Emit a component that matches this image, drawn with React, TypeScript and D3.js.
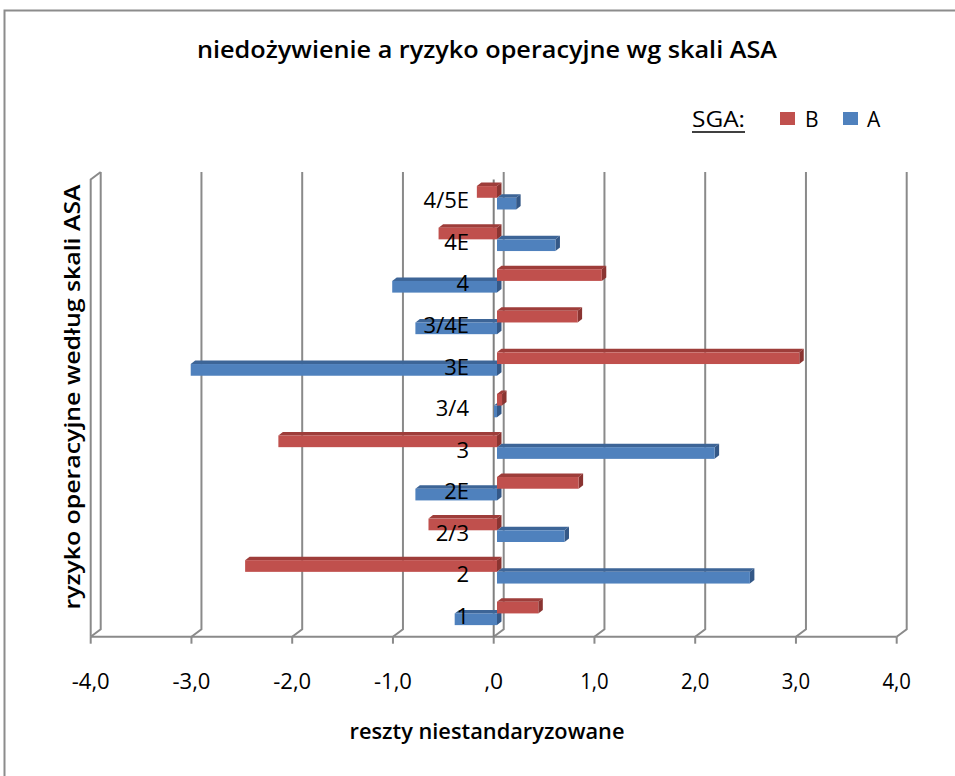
import React from "react";
import * as d3 from "d3";

const categories = ["1", "2", "2/3", "2E", "3", "3/4", "3E", "3/4E", "4", "4E", "4/5E"];
const seriesB = [0.41, -2.5, -0.68, 0.81, -2.17, 0.05, 3.0, 0.8, 1.04, -0.58, -0.2];
const seriesA = [-0.42, 2.51, 0.67, -0.81, 2.16, -0.03, -3.04, -0.81, -1.04, 0.58, 0.19];
const xTicks = [-4, -3, -2, -1, 0, 1, 2, 3, 4];
const xTickLabels = ["-4,0", "-3,0", "-2,0", "-1,0", ",0", "1,0", "2,0", "3,0", "4,0"];
const seriesNames = ["B", "A"];

const W = 955, H = 776;
const FONT = "'Open Sans', 'Noto Sans', sans-serif";
const GRID = "#8a8a8a";

export default function App() {
  const front = { left: 90.7, right: 896.7, top: 179.5, bottom: 636.7 };
  const depth = { dx: 10, dy: -7.5 };
  const x = d3.scaleLinear().domain([-4, 4]).range([front.left, front.right]);
  const y = d3.scaleBand<string>().domain(categories).range([front.bottom, front.top]);
  const bw = y.bandwidth();
  const barOff = { dx: 3.3, dy: -2.5 };
  const ext = { dx: 4.5, dy: -3.5 };
  const h = 11.7;

  const colors: Record<string, { front: string; top: string; side: string }> = {
    B: { front: "#C0504D", top: "#9E3D3A", side: "#8A3431" },
    A: { front: "#4F81BD", top: "#3D6597", side: "#345887" },
  };

  const box = (x1: number, x2: number, y1: number, y2: number, c: { front: string; top: string; side: string }, key: string) => {
    const topPts = [[x1, y1], [x2, y1], [x2 + ext.dx, y1 + ext.dy], [x1 + ext.dx, y1 + ext.dy]];
    const sidePts = [[x2, y1], [x2 + ext.dx, y1 + ext.dy], [x2 + ext.dx, y2 + ext.dy], [x2, y2]];
    return (
      <g key={key}>
        <polygon points={topPts.map((p) => p.join(",")).join(" ")} fill={c.top} />
        <polygon points={sidePts.map((p) => p.join(",")).join(" ")} fill={c.side} />
        <rect x={x1} y={y1} width={Math.max(0, x2 - x1)} height={y2 - y1} fill={c.front} />
      </g>
    );
  };

  const bars: React.ReactNode[] = [];
  categories.forEach((cat, i) => {
    const yc = (y(cat) as number) + bw / 2 + barOff.dy;
    const vals: [string, number][] = [["A", seriesA[i]], ["B", seriesB[i]]];
    vals.forEach(([s, v]) => {
      const x1 = x(Math.min(0, v)) + barOff.dx;
      const x2 = x(Math.max(0, v)) + barOff.dx;
      const y1 = s === "B" ? yc - h : yc;
      bars.push(box(x1, x2, y1, y1 + h, colors[s], cat + s));
    });
  });

  return (
    <svg width={W} height={H} style={{ position: "absolute", left: 0, top: 0, background: "#fff" }}>
      <rect x={4.5} y={10.5} width={970} height={800} fill="#fff" stroke="#8c8c8c" strokeWidth={2} />
      <text x={487} y={58} textAnchor="middle" fontFamily={FONT} fontSize={23} fontWeight={600} textLength={580} lengthAdjust="spacingAndGlyphs" fill="#000">
        niedożywienie a ryzyko operacyjne wg skali ASA
      </text>
      {/* legend */}
      <text x={692} y={127} fontFamily={FONT} fontSize={21} textLength={53} lengthAdjust="spacingAndGlyphs">SGA:</text>
      <line x1={692} x2={745} y1={132} y2={132} stroke="#000" strokeWidth={1.3} />
      {seriesNames.map((s, i) => (
        <g key={s}>
          <rect x={780 + i * 63} y={112} width={15} height={13} fill={colors[s].front} />
          <text x={805 + i * 62} y={127} fontFamily={FONT} fontSize={21} fill="#000">{s}</text>
        </g>
      ))}
      {/* left wall */}
      <path d={`M${front.left},${front.bottom} L${front.left},${front.top} L${front.left + depth.dx},${front.top + depth.dy}`} fill="none" stroke={GRID} strokeWidth={2} />
      {/* gridlines on back wall with floor diagonals */}
      {xTicks.map((t) => (
        <path key={t} d={`M${x(t)},${front.bottom} L${x(t) + depth.dx},${front.bottom + depth.dy} L${x(t) + depth.dx},${front.top + depth.dy}`} fill="none" stroke={GRID} strokeWidth={2} />
      ))}
      {/* floor front edge & ticks */}
      <line x1={front.left} x2={front.right} y1={front.bottom} y2={front.bottom} stroke={GRID} strokeWidth={2} />
      {xTicks.map((t) => (
        <line key={"t" + t} x1={x(t)} x2={x(t)} y1={front.bottom} y2={front.bottom + 7} stroke={GRID} strokeWidth={2} />
      ))}
      {/* category axis at 0 */}
      <line x1={x(0)} x2={x(0)} y1={front.top} y2={front.bottom} stroke="#7f7f7f" strokeWidth={2} />
      {bars}
      {/* category labels */}
      {categories.map((c) => (
        <text key={"c" + c} x={469} y={(y(c) as number) + bw / 2 + 8} textAnchor="end" fontFamily={FONT} fontSize={22} fill="#000">
          {c}
        </text>
      ))}
      {/* tick labels */}
      {xTicks.map((t, i) => (
        <text key={"l" + t} x={x(t)} y={689} textAnchor="middle" fontFamily={FONT} fontSize={22} fill="#000"
          textLength={xTickLabels[i].length * 9.5} lengthAdjust="spacingAndGlyphs">
          {xTickLabels[i]}
        </text>
      ))}
      <text x={487} y={739} textAnchor="middle" fontFamily={FONT} fontSize={22} fontWeight={600} textLength={275} lengthAdjust="spacingAndGlyphs" fill="#000">
        reszty niestandaryzowane
      </text>
      <text transform={`translate(80,397) rotate(-90)`} textAnchor="middle" fontFamily={FONT} fontSize={22} fontWeight={600} textLength={425} lengthAdjust="spacingAndGlyphs" fill="#000">
        ryzyko operacyjne według skali ASA
      </text>
    </svg>
  );
}
